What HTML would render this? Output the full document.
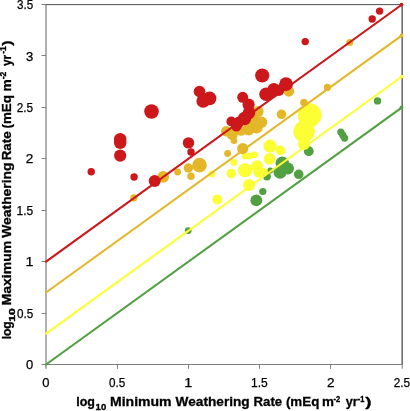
<!DOCTYPE html>
<html lang="en"><head><meta charset="utf-8"><title>Weathering rate chart</title>
<style>html,body{margin:0;padding:0;background:#fff;}svg{display:block;will-change:transform;}text{font-family:"Liberation Sans",sans-serif;fill:#000;}</style></head><body>
<svg width="410" height="411" viewBox="0 0 410 411">
<rect width="410" height="411" fill="#fff"/>
<g stroke="#808080" stroke-width="1.25" fill="none">
<line x1="46.0" y1="4.5" x2="46.0" y2="368.8"/>
<line x1="41.5" y1="364.5" x2="402.0" y2="364.5" stroke-width="1"/>
<line x1="41.5" y1="313.50" x2="46.0" y2="313.50" stroke-width="1"/>
<line x1="41.5" y1="261.50" x2="46.0" y2="261.50" stroke-width="1"/>
<line x1="41.5" y1="210.50" x2="46.0" y2="210.50" stroke-width="1"/>
<line x1="41.5" y1="158.50" x2="46.0" y2="158.50" stroke-width="1"/>
<line x1="41.5" y1="107.50" x2="46.0" y2="107.50" stroke-width="1"/>
<line x1="41.5" y1="55.50" x2="46.0" y2="55.50" stroke-width="1"/>
<line x1="41.5" y1="4.50" x2="46.0" y2="4.50" stroke-width="1"/>
<line x1="117.50" y1="364.5" x2="117.50" y2="368.8" stroke-width="1"/>
<line x1="188.50" y1="364.5" x2="188.50" y2="368.8" stroke-width="1"/>
<line x1="259.50" y1="364.5" x2="259.50" y2="368.8" stroke-width="1"/>
<line x1="330.50" y1="364.5" x2="330.50" y2="368.8" stroke-width="1"/>
</g>
<path d="M46.0 4.6H403.0" stroke="#505050" stroke-width="1" fill="none"/>
<path d="M402.2 4.1V365.0" stroke="#6e6e6e" stroke-width="1.6" fill="none"/>
<path d="M402.3 365.0V368.8" stroke="#9a9a9a" stroke-width="1.2" fill="none"/>
<g fill="#51A042">
<circle cx="188.2" cy="230.6" r="3.4"/>
<circle cx="377.5" cy="100.9" r="3.7"/>
<circle cx="340.8" cy="132.1" r="3.6"/>
<circle cx="342.8" cy="135.2" r="3.6"/>
<circle cx="344.6" cy="138.1" r="3.6"/>
<circle cx="308.8" cy="151.2" r="4.9"/>
<circle cx="298.7" cy="174.3" r="4.8"/>
<circle cx="282.3" cy="163.3" r="6.7"/>
<circle cx="288.1" cy="168.5" r="5.9"/>
<circle cx="280.1" cy="172.1" r="6.6"/>
<circle cx="270.3" cy="170.6" r="3.0"/>
<circle cx="267.0" cy="176.5" r="3.9"/>
<circle cx="262.8" cy="191.5" r="3.6"/>
<circle cx="256.3" cy="200.4" r="5.9"/>
</g>
<g fill="#FCFF33">
<circle cx="309.6" cy="115.2" r="11.9"/>
<circle cx="304.1" cy="131.5" r="10.7"/>
<circle cx="304.0" cy="144.0" r="6.1"/>
<circle cx="270.1" cy="146.2" r="6.6"/>
<circle cx="280.4" cy="150.4" r="4.9"/>
<circle cx="269.5" cy="158.8" r="5.8"/>
<circle cx="257.0" cy="166.2" r="6.0"/>
<circle cx="258.5" cy="172.2" r="5.3"/>
<circle cx="264.0" cy="171.5" r="3.5"/>
<circle cx="245.0" cy="156.3" r="3.1"/>
<circle cx="249.6" cy="156.0" r="3.4"/>
<circle cx="254.6" cy="154.8" r="3.4"/>
<circle cx="233.9" cy="162.4" r="3.4"/>
<circle cx="245.0" cy="170.3" r="7.0"/>
<circle cx="231.2" cy="173.6" r="4.8"/>
<circle cx="249.0" cy="185.0" r="6.0"/>
<circle cx="217.3" cy="199.5" r="4.9"/>
<circle cx="211.7" cy="173.9" r="3.4"/>
</g>
<g fill="#E4B729">
<circle cx="133.9" cy="197.8" r="3.6"/>
<circle cx="163.2" cy="176.8" r="5.9"/>
<circle cx="177.6" cy="172.0" r="3.4"/>
<circle cx="188.4" cy="168.0" r="4.7"/>
<circle cx="199.5" cy="165.1" r="7.3"/>
<circle cx="191.0" cy="176.3" r="3.7"/>
<circle cx="258.0" cy="111.5" r="5.6"/>
<circle cx="261.5" cy="122.3" r="5.7"/>
<circle cx="256.6" cy="127.4" r="6.1"/>
<circle cx="248.5" cy="129.6" r="6.0"/>
<circle cx="241.0" cy="131.0" r="4.8"/>
<circle cx="252.0" cy="119.0" r="7.0"/>
<circle cx="226.3" cy="131.2" r="5.2"/>
<circle cx="232.3" cy="134.5" r="5.5"/>
<circle cx="234.0" cy="140.8" r="3.3"/>
<circle cx="242.7" cy="148.6" r="5.6"/>
<circle cx="227.6" cy="153.5" r="3.4"/>
<circle cx="281.5" cy="114.3" r="4.8"/>
<circle cx="288.8" cy="91.3" r="5.4"/>
<circle cx="303.9" cy="102.5" r="3.7"/>
<circle cx="327.4" cy="87.4" r="3.6"/>
<circle cx="349.7" cy="42.4" r="3.5"/>
</g>
<g fill="#CC171B">
<circle cx="151.5" cy="111.5" r="7.3"/>
<circle cx="120.2" cy="139.2" r="6.2"/>
<circle cx="120.2" cy="142.8" r="6.2"/>
<circle cx="120.2" cy="155.6" r="6.1"/>
<circle cx="91.2" cy="171.7" r="3.7"/>
<circle cx="134.1" cy="177.0" r="3.7"/>
<circle cx="154.7" cy="181.0" r="6.0"/>
<circle cx="199.5" cy="91.5" r="5.8"/>
<circle cx="209.5" cy="98.3" r="6.9"/>
<circle cx="203.2" cy="101.0" r="6.8"/>
<circle cx="242.7" cy="97.3" r="5.5"/>
<circle cx="248.6" cy="104.6" r="6.1"/>
<circle cx="249.0" cy="112.8" r="6.3"/>
<circle cx="244.5" cy="118.5" r="6.7"/>
<circle cx="231.3" cy="121.5" r="4.9"/>
<circle cx="236.4" cy="126.2" r="5.3"/>
<circle cx="239.0" cy="122.0" r="5.5"/>
<circle cx="262.2" cy="75.5" r="7.1"/>
<circle cx="286.0" cy="84.2" r="6.9"/>
<circle cx="273.8" cy="89.3" r="6.3"/>
<circle cx="278.8" cy="90.3" r="5.6"/>
<circle cx="273.0" cy="93.0" r="4.6"/>
<circle cx="266.1" cy="94.2" r="6.8"/>
<circle cx="305.2" cy="41.6" r="3.7"/>
<circle cx="372.2" cy="19.0" r="3.7"/>
<circle cx="379.6" cy="11.1" r="3.7"/>
<circle cx="188.5" cy="142.9" r="5.7"/>
<circle cx="191.0" cy="152.0" r="3.7"/>
</g>
<g stroke-width="2.15" stroke-linecap="round" fill="none">
<line x1="46.0" y1="364.50" x2="402.0" y2="107.36" stroke="#51A042"/>
<circle cx="401.5" cy="107.46" r="1.9" fill="#51A042" stroke="none"/>
<line x1="46.0" y1="333.64" x2="402.0" y2="76.50" stroke="#FCFF33"/>
<circle cx="401.5" cy="76.60" r="1.9" fill="#FCFF33" stroke="none"/>
<line x1="46.0" y1="292.50" x2="402.0" y2="35.36" stroke="#E4B729"/>
<circle cx="401.5" cy="35.46" r="1.9" fill="#E4B729" stroke="none"/>
<line x1="46.0" y1="261.64" x2="402.0" y2="4.50" stroke="#CC171B"/>
<circle cx="401.5" cy="4.60" r="1.9" fill="#CC171B" stroke="none"/>
</g>
<g font-size="12.5px" stroke="#000" stroke-width="0.25">
<text x="42.39" y="386.7" textLength="7.21" lengthAdjust="spacingAndGlyphs">0</text>
<text x="109.09" y="386.7" textLength="16.25" lengthAdjust="spacingAndGlyphs">0.5</text>
<text x="184.20" y="386.7" textLength="8.00" lengthAdjust="spacingAndGlyphs">1</text>
<text x="251.03" y="386.7" textLength="16.72" lengthAdjust="spacingAndGlyphs">1.5</text>
<text x="327.02" y="386.7" textLength="7.57" lengthAdjust="spacingAndGlyphs">2</text>
<text x="393.76" y="386.7" textLength="16.39" lengthAdjust="spacingAndGlyphs">2.5</text>
<text x="25.99" y="369.1" textLength="7.21" lengthAdjust="spacingAndGlyphs">0</text>
<text x="16.94" y="317.7" textLength="16.25" lengthAdjust="spacingAndGlyphs">0.5</text>
<text x="25.40" y="266.2" textLength="8.00" lengthAdjust="spacingAndGlyphs">1</text>
<text x="16.48" y="214.8" textLength="16.72" lengthAdjust="spacingAndGlyphs">1.5</text>
<text x="25.82" y="163.4" textLength="7.57" lengthAdjust="spacingAndGlyphs">2</text>
<text x="16.81" y="112.0" textLength="16.39" lengthAdjust="spacingAndGlyphs">2.5</text>
<text x="26.00" y="60.5" textLength="7.27" lengthAdjust="spacingAndGlyphs">3</text>
<text x="16.96" y="9.1" textLength="16.24" lengthAdjust="spacingAndGlyphs">3.5</text>
</g>
<g transform="translate(77.1,405.9)"><text x="-0.87" y="0" font-size="13.7px" font-weight="bold" stroke="#000" stroke-width="0.3" textLength="18.71" lengthAdjust="spacingAndGlyphs">log</text>
<text x="18.50" y="4.0" font-size="9.4px" font-weight="bold" stroke="#000" stroke-width="0.35" textLength="10.59" lengthAdjust="spacingAndGlyphs">10</text>
<text x="32.86" y="0" font-size="13.7px" font-weight="bold" stroke="#000" stroke-width="0.3" textLength="61.61" lengthAdjust="spacingAndGlyphs">Minimum</text>
<text x="98.49" y="0" font-size="13.7px" font-weight="bold" stroke="#000" stroke-width="0.3" textLength="74.12" lengthAdjust="spacingAndGlyphs">Weathering</text>
<text x="176.42" y="0" font-size="13.7px" font-weight="bold" stroke="#000" stroke-width="0.3" textLength="28.64" lengthAdjust="spacingAndGlyphs">Rate</text>
<text x="208.84" y="0" font-size="13.7px" font-weight="bold" stroke="#000" stroke-width="0.3" textLength="33.36" lengthAdjust="spacingAndGlyphs">(mEq</text>
<text x="245.02" y="0" font-size="13.7px" font-weight="bold" stroke="#000" stroke-width="0.3" textLength="11.91" lengthAdjust="spacingAndGlyphs">m</text>
<text x="256.31" y="-4.4" font-size="9.0px" font-weight="bold" stroke="#000" stroke-width="0.35" textLength="6.70" lengthAdjust="spacingAndGlyphs">-2</text>
<text x="268.70" y="0" font-size="13.7px" font-weight="bold" stroke="#000" stroke-width="0.3" textLength="11.99" lengthAdjust="spacingAndGlyphs">yr</text>
<text x="280.61" y="-4.4" font-size="9.0px" font-weight="bold" stroke="#000" stroke-width="0.35" textLength="6.60" lengthAdjust="spacingAndGlyphs">-1</text>
<text x="288.28" y="0" font-size="13.7px" font-weight="bold" stroke="#000" stroke-width="0.3" textLength="6.25" lengthAdjust="spacingAndGlyphs">)</text></g>
<g transform="translate(11.0,338.5) rotate(-90)"><text x="-0.84" y="0" font-size="13.7px" font-weight="bold" stroke="#000" stroke-width="0.3" textLength="18.05" lengthAdjust="spacingAndGlyphs">log</text>
<text x="16.73" y="3.5" font-size="8.4px" font-weight="bold" stroke="#000" stroke-width="0.35" textLength="13.57" lengthAdjust="spacingAndGlyphs">10</text>
<text x="33.06" y="0" font-size="13.7px" font-weight="bold" stroke="#000" stroke-width="0.3" textLength="64.61" lengthAdjust="spacingAndGlyphs">Maximum</text>
<text x="100.79" y="0" font-size="13.7px" font-weight="bold" stroke="#000" stroke-width="0.3" textLength="75.24" lengthAdjust="spacingAndGlyphs">Weathering</text>
<text x="178.20" y="0" font-size="13.7px" font-weight="bold" stroke="#000" stroke-width="0.3" textLength="29.05" lengthAdjust="spacingAndGlyphs">Rate</text>
<text x="209.93" y="0" font-size="13.7px" font-weight="bold" stroke="#000" stroke-width="0.3" textLength="33.46" lengthAdjust="spacingAndGlyphs">(mEq</text>
<text x="247.09" y="0" font-size="13.7px" font-weight="bold" stroke="#000" stroke-width="0.3" textLength="12.26" lengthAdjust="spacingAndGlyphs">m</text>
<text x="259.26" y="-4.6" font-size="9.0px" font-weight="bold" stroke="#000" stroke-width="0.35" textLength="7.68" lengthAdjust="spacingAndGlyphs">-2</text>
<text x="272.41" y="0" font-size="13.7px" font-weight="bold" stroke="#000" stroke-width="0.3" textLength="11.27" lengthAdjust="spacingAndGlyphs">yr</text>
<text x="284.67" y="-4.6" font-size="9.0px" font-weight="bold" stroke="#000" stroke-width="0.35" textLength="7.57" lengthAdjust="spacingAndGlyphs">-1</text>
<text x="292.68" y="0" font-size="13.7px" font-weight="bold" stroke="#000" stroke-width="0.3" textLength="5.43" lengthAdjust="spacingAndGlyphs">)</text></g>
</svg></body></html>
